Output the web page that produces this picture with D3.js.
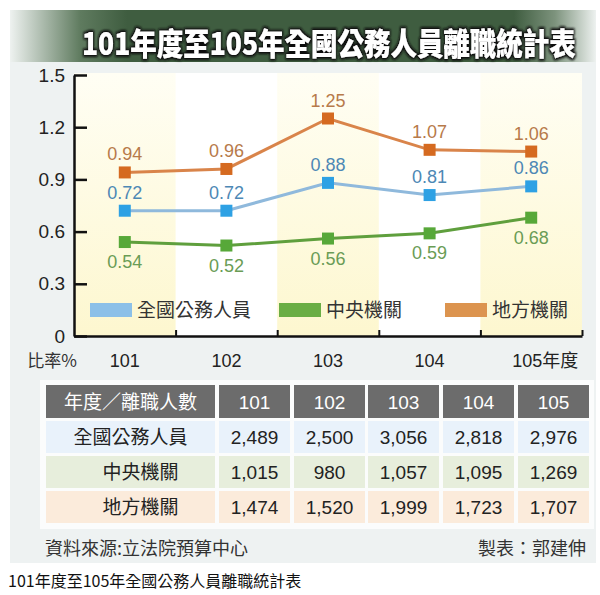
<!DOCTYPE html>
<html><head><meta charset="utf-8">
<script src="https://cdn.jsdelivr.net/npm/d3@7"></script>
<style>
html,body{margin:0;padding:0;background:#fff;}
svg{display:block;font-family:"Liberation Sans","Noto Sans CJK TC",sans-serif;}
</style></head>
<body>
<svg id="chart" width="600" height="595"></svg>
<script>
const years = ["101","102","103","104","105"];
const seriesNames = ["全國公務人員","中央機關","地方機關"];
const allStaff = [0.72,0.72,0.88,0.81,0.86];
const central = [0.54,0.52,0.56,0.59,0.68];
const local = [0.94,0.96,1.25,1.07,1.06];
const yTicks = [0,0.3,0.6,0.9,1.2,1.5];
const tableHeader = ["年度／離職人數","101","102","103","104","105"];
const countAll = ["2,489","2,500","3,056","2,818","2,976"];
const countCentral = ["1,015","980","1,057","1,095","1,269"];
const countLocal = ["1,474","1,520","1,999","1,723","1,707"];
const titleText = "101年度至105年全國公務人員離職統計表";
const sourceText = "資料來源:立法院預算中心";
const authorText = "製表：郭建伸";
const captionText = "101年度至105年全國公務人員離職統計表";

const svg = d3.select("#chart");
const defs = svg.append("defs");

// background panel
svg.append("rect").attr("x",10).attr("y",10).attr("width",586).attr("height",553).attr("fill","#eef2f2");

// title banner gradient
const tg = defs.append("linearGradient").attr("id","tg").attr("x1","0").attr("x2","1");
[[0,"#eef2f0"],[0.12,"#5f7b5f"],[0.2,"#3f5d40"],[0.86,"#3f5d40"],[0.93,"#7d937d"],[1,"#eef2f0"]]
  .forEach(([o,c])=>tg.append("stop").attr("offset",o).attr("stop-color",c));
svg.append("rect").attr("x",10).attr("y",10).attr("width",586).attr("height",52).attr("fill","url(#tg)");
const sh = defs.append("filter").attr("id","sh").attr("x","-10%").attr("y","-30%").attr("width","120%").attr("height","160%");
sh.append("feMorphology").attr("in","SourceAlpha").attr("operator","dilate").attr("radius",1.6).attr("result","d");
sh.append("feGaussianBlur").attr("in","d").attr("stdDeviation",1.2).attr("result","b");
sh.append("feFlood").attr("flood-color","#111");
sh.append("feComposite").attr("in2","b").attr("operator","in").attr("result","s");
const fm = sh.append("feMerge"); fm.append("feMergeNode").attr("in","s"); fm.append("feMergeNode").attr("in","SourceGraphic");
const title = svg.append("text").attr("x",0).attr("y",0)
  .attr("font-family","'Noto Sans CJK TC',sans-serif").attr("font-weight","900").attr("font-size",31)
  .attr("fill","#fff").attr("filter","url(#sh)").text(titleText);
const natW = title.node().getComputedTextLength() || 598;
title.attr("transform",`translate(82,55) scale(${494/natW},1)`);

// plot
const x0 = 74, x1 = 582, y0 = 336, y1 = 75;
const xb = d3.scaleBand().domain(years).range([x0,x1]).padding(0);
const xc = d => xb(d) + xb.bandwidth()/2;
const y = d3.scaleLinear().domain([0,1.5]).range([y0,y1]);

svg.append("rect").attr("x",x0).attr("y",y1-2).attr("width",x1-x0).attr("height",y0-y1+2).attr("fill","#fff");
const bg = defs.append("linearGradient").attr("id","bg").attr("x1","0").attr("x2","0").attr("y1","0").attr("y2","1");
[[0,"#fffef4"],[1,"#fdf7cf"]].forEach(([o,c])=>bg.append("stop").attr("offset",o).attr("stop-color",c));
svg.selectAll(".band").data(years.filter((d,i)=>i%2===0)).join("rect")
  .attr("x",d=>xb(d)).attr("y",y1-2).attr("width",xb.bandwidth()).attr("height",y0-y1+2).attr("fill","url(#bg)");

// axes
const yAxis = d3.axisLeft(y).tickValues(yTicks).tickSize(-13).tickSizeOuter(0).tickPadding(9)
  .tickFormat(d=>d===0?"0":d3.format(".1f")(d));
const ga = svg.append("g").attr("transform",`translate(${x0},0)`).call(yAxis);
ga.select(".domain").attr("stroke","#111").attr("stroke-width",2.5);
ga.selectAll(".tick line").attr("stroke","#111").attr("stroke-width",2.5);
ga.selectAll(".tick text").attr("font-size",19).attr("fill","#222");

const xl = d3.scaleLinear().domain([0,5]).range([x0,x1]);
const xAxis = d3.axisBottom(xl).tickValues([1,2,3,4,5]).tickSize(-6).tickSizeOuter(0).tickFormat("");
const gx = svg.append("g").attr("transform",`translate(0,${y0})`).call(xAxis);
gx.select(".domain").attr("stroke","#111").attr("stroke-width",2.5);
gx.selectAll(".tick line").attr("stroke","#111").attr("stroke-width",2);

// x labels
svg.selectAll(".xlab").data(years).join("text")
  .attr("x",(d,i)=> i===4 ? xc(d)-19 : xc(d)).attr("y",367)
  .attr("text-anchor",(d,i)=> i===4 ? "start":"middle")
  .attr("font-size",18).attr("fill","#222")
  .text((d,i)=> i===4 ? d+"年度" : d);
svg.append("text").attr("x",52).attr("y",367).attr("text-anchor","middle").attr("font-size",17).attr("fill","#333")
  .attr("font-family","'Noto Sans CJK TC','Liberation Sans',sans-serif").text("比率%");

// series
const series = [
  {name:seriesNames[0], vals:allStaff, line:"#8fb9dc", mark:"#2ea1e4", lab:"#4d88b5", leg:"#8cc0e8", dy:-12},
  {name:seriesNames[1], vals:central, line:"#5f9f3d", mark:"#57a839", lab:"#6a9c55", leg:"#6aae45", dy:26},
  {name:seriesNames[2], vals:local, line:"#d9844a", mark:"#d56a20", lab:"#b77a4a", leg:"#dc944f", dy:-12}
];
const line = d3.line().x((d,i)=>xc(years[i])).y(d=>y(d));
series.forEach(s=>{
  svg.append("path").datum(s.vals).attr("d",line).attr("fill","none").attr("stroke",s.line).attr("stroke-width",3);
  svg.selectAll(null).data(s.vals).join("rect")
    .attr("x",(d,i)=>xc(years[i])-6).attr("y",d=>y(d)-6).attr("width",12).attr("height",12).attr("fill",s.mark);
  svg.selectAll(null).data(s.vals).join("text")
    .attr("x",(d,i)=>xc(years[i])).attr("y",d=>y(d)+s.dy).attr("text-anchor","middle")
    .attr("font-size",18).attr("fill",s.lab).text(d=>d3.format(".2f")(d));
});

// legend
const legX = [90,279,445];
series.forEach((s,i)=>{
  svg.append("rect").attr("x",legX[i]).attr("y",303).attr("width",42).attr("height",14).attr("fill",s.leg);
  svg.append("text").attr("x",legX[i]+47).attr("y",317).attr("font-size",19).attr("fill","#333")
    .attr("font-family","'Noto Sans CJK TC',sans-serif").text(s.name);
});

// table
svg.append("rect").attr("x",40).attr("y",380).attr("width",554).attr("height",149).attr("fill","#fbfcfc");
const colX = [46,219,294,368,443,518];
const colW = [169,71,71,71,71,71];
const rowY = [385,421,456,491];
const rowH = [33,32,32,32];
const rows = [
  {cells:tableHeader, fill:"#6c6c6c", color:"#fff"},
  {cells:[seriesNames[0]].concat(countAll), fill:"#e9f2fb", color:"#222"},
  {cells:[seriesNames[1]].concat(countCentral), fill:"#e7eedc", color:"#222"},
  {cells:[seriesNames[2]].concat(countLocal), fill:"#fbebdb", color:"#222"}
];
rows.forEach((r,ri)=>{
  r.cells.forEach((c,ci)=>{
    svg.append("rect").attr("x",colX[ci]).attr("y",rowY[ri]).attr("width",colW[ci]).attr("height",rowH[ri]).attr("fill",r.fill);
    svg.append("text").attr("x",colX[ci]+colW[ci]/2 + (ci===0 && ri>=2 ? 10 : 0)).attr("y",rowY[ri]+rowH[ri]/2+7)
      .attr("text-anchor","middle").attr("font-size",19).attr("fill",r.color)
      .attr("font-family", ci===0 ? "'Noto Sans CJK TC',sans-serif" : "'Liberation Sans',sans-serif")
      .text(c);
  });
});

// footer
svg.append("text").attr("x",45).attr("y",555).attr("font-size",18).attr("fill","#333")
  .attr("font-family","'Noto Sans CJK TC',sans-serif").text(sourceText);
svg.append("text").attr("x",586).attr("y",555).attr("text-anchor","end").attr("font-size",18).attr("fill","#333")
  .attr("font-family","'Noto Sans CJK TC',sans-serif").text(authorText);
svg.append("text").attr("x",8).attr("y",587).attr("font-size",16).attr("fill","#111")
  .attr("font-family","'Noto Sans CJK TC',sans-serif").text(captionText);
</script>
</body></html>
